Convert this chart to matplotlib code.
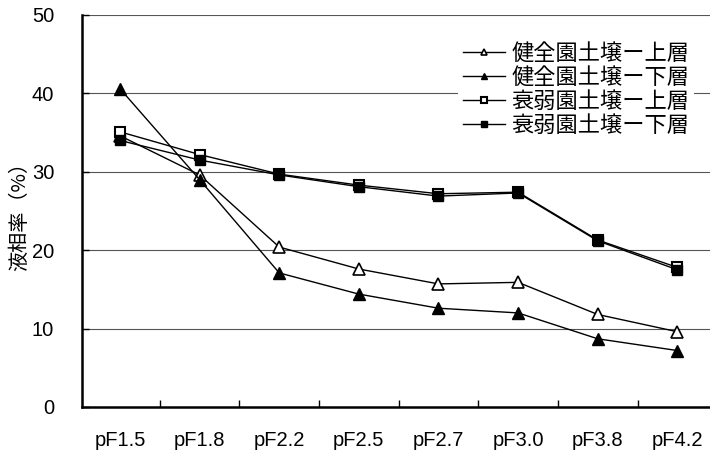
import matplotlib
matplotlib.use("Agg")
import matplotlib.pyplot as plt

plt.rcParams["font.family"] = ["Liberation Sans", "Noto Sans CJK JP"]

categories = ["pF1.5", "pF1.8", "pF2.2", "pF2.5", "pF2.7", "pF3.0", "pF3.8", "pF4.2"]
healthy_upper = [34.6, 29.6, 20.4, 17.6, 15.7, 15.9, 11.8, 9.6]
healthy_lower = [40.6, 29.0, 17.1, 14.4, 12.6, 12.0, 8.7, 7.2]
weak_upper = [35.1, 32.2, 29.7, 28.3, 27.2, 27.4, 21.3, 17.8]
weak_lower = [34.0, 31.5, 29.6, 28.1, 26.9, 27.3, 21.2, 17.5]

labels = ["健全園土壌ー上層", "健全園土壌ー下層", "衰弱園土壌ー上層", "衰弱園土壌ー下層"]
y_ticks = [0, 10, 20, 30, 40, 50]

fig = plt.figure(figsize=(7.1, 4.54), dpi=100)
ax = fig.add_axes([82 / 710, 47 / 454, 628 / 710, 392 / 454])

x = list(range(len(categories)))
lw = 1.0
ax.plot(x, healthy_upper, color="k", lw=lw, marker="^", ms=8,
        mfc="white", mec="k", mew=1.2, label=labels[0], zorder=3)
ax.plot(x, healthy_lower, color="k", lw=lw, marker="^", ms=8,
        mfc="k", mec="k", label=labels[1], zorder=3)
ax.plot(x, weak_upper, color="k", lw=lw, marker="s", ms=6.5,
        mfc="white", mec="k", mew=1.5, label=labels[2], zorder=3)
ax.plot(x, weak_lower, color="k", lw=lw, marker="s", ms=7,
        mfc="k", mec="k", label=labels[3], zorder=3)

ax.set_xlim(-0.477, 7.41)
ax.set_ylim(0, 50)
ax.set_yticks(y_ticks)
ax.set_xticks(x)
ax.set_xticklabels(categories)
ax.set_xticks([i + 0.5 for i in range(len(categories) - 1)], minor=True)
ax.tick_params(axis="x", which="major", length=0, pad=17, labelsize=14.5)
ax.tick_params(axis="x", which="minor", direction="in", length=5, width=1)
ax.tick_params(axis="y", direction="in", length=5, width=1, pad=20, labelsize=14.5)

for yv in y_ticks[1:]:
    ax.axhline(yv, color="#555555", lw=0.8, zorder=1)

for s in ["top", "right"]:
    ax.spines[s].set_visible(False)
for s in ["left", "bottom"]:
    ax.spines[s].set_linewidth(1.8)

ax.set_ylabel("液相率（%）", family=["Noto Sans CJK JP"], fontsize=14.5, labelpad=1)

leg = ax.legend(loc="upper right", bbox_to_anchor=(705 / 710, 1 - 26 / 454),
                bbox_transform=fig.transFigure, frameon=True, fancybox=False,
                edgecolor="none", facecolor="white", framealpha=1,
                prop={"family": "Noto Sans CJK JP", "size": 16},
                handlelength=1.9, handletextpad=0.3, labelspacing=0.05,
                borderpad=0.2, markerscale=0.6)

fig.savefig("out.png", dpi=100)
